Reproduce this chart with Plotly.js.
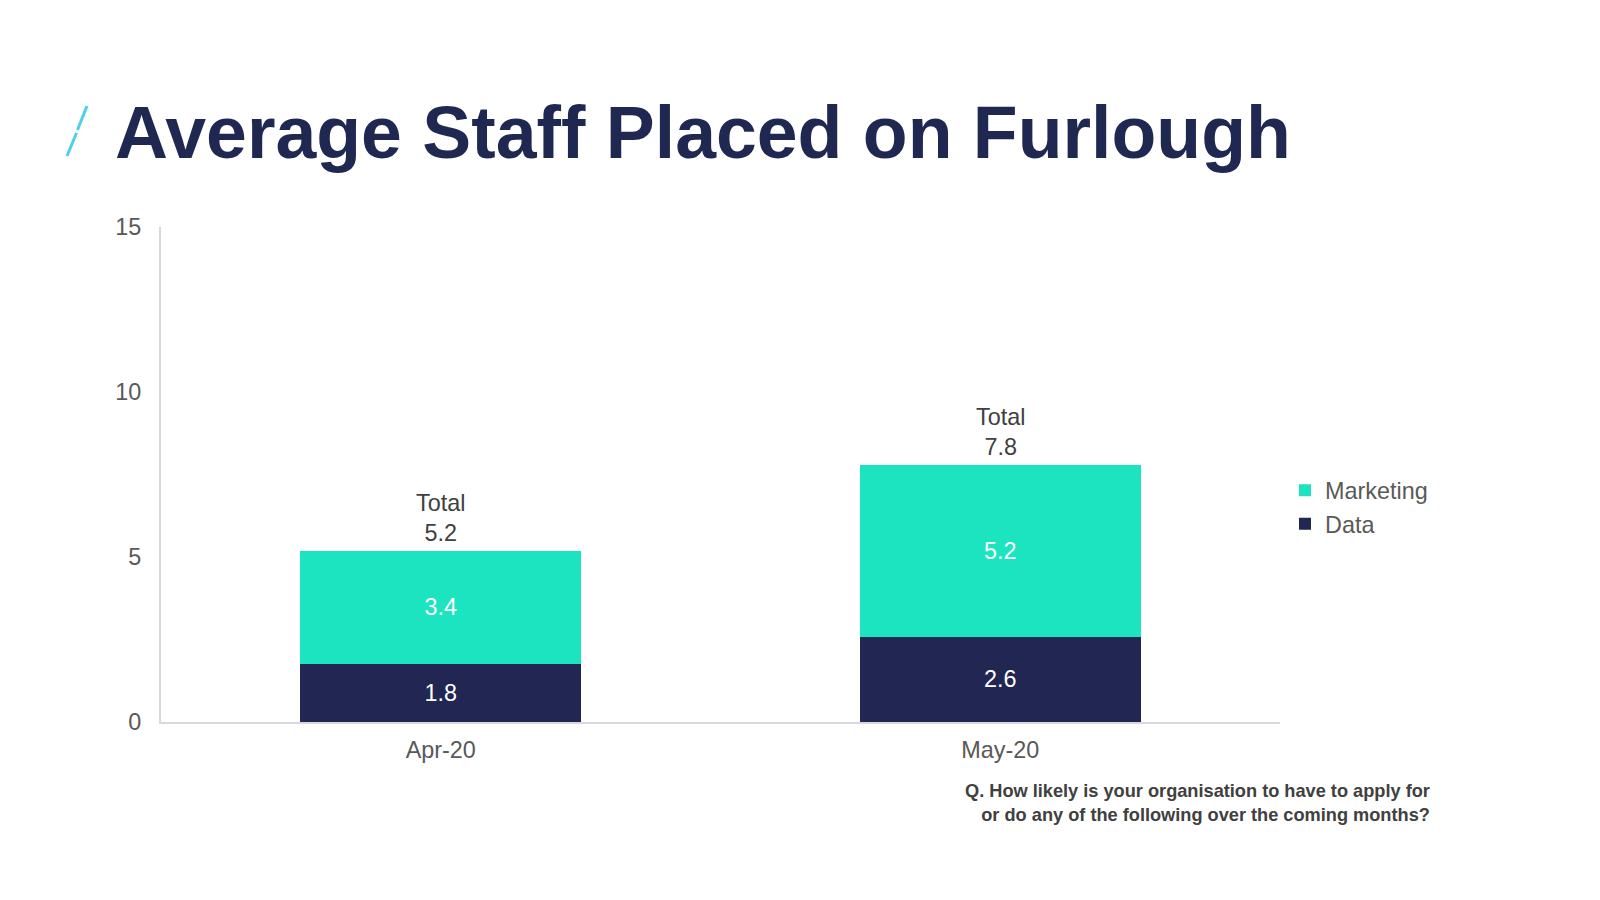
<!DOCTYPE html>
<html>
<head>
<meta charset="utf-8">
<script src="https://cdn.plot.ly/plotly-3.0.1.min.js"></script>
<style>
html,body{margin:0;padding:0;background:#fff;}
#chart{width:1600px;height:900px;}
</style>
</head>
<body>
<div id="chart"></div>
<script>
const months = ["Apr-20", "May-20"];
const dataValues = [1.76, 2.58];
const marketingValues = [3.42, 5.21];
const yTicks = [0, 5, 10, 15];
const chartTitle = "Average Staff Placed on Furlough";
const footnote = "Q. How likely is your organisation to have to apply for<br>or do any of the following over the coming months?";

const totals = months.map((m, i) => dataValues[i] + marketingValues[i]);

const FONT = "Liberation Sans, Arial, sans-serif";
const NAVY = "#212653";
const AQUA = "#1ce4c1";
const GREY = "#595959";
const FS = 23.4;

const traces = [
  {
    type: "bar", name: "Data", x: months, y: dataValues,
    marker: {color: NAVY},
    texttemplate: "%{y:.1f}", textposition: "inside", insidetextanchor: "middle",
    textangle: 0, constraintext: "none",
    insidetextfont: {family: FONT, size: FS, color: "#ffffff"},
    hoverinfo: "skip"
  },
  {
    type: "bar", name: "Marketing", x: months, y: marketingValues,
    marker: {color: AQUA},
    texttemplate: "%{y:.1f}", textposition: "inside", insidetextanchor: "middle",
    textangle: 0, constraintext: "none",
    insidetextfont: {family: FONT, size: FS, color: "#ffffff"},
    hoverinfo: "skip"
  }
];

const annotations = months.map((m, i) => ({
  x: m, y: totals[i], xref: "x", yref: "y",
  text: "Total<br>" + totals[i].toFixed(1),
  showarrow: false, yanchor: "bottom", xanchor: "center", yshift: 3,
  font: {family: FONT, size: FS, color: "#404040"}
}));

annotations.push({
  xref: "paper", yref: "paper", x: 1.1359, y: -0.1636,
  xanchor: "right", yanchor: "middle", align: "right", showarrow: false,
  text: "<b>" + footnote.split("<br>").join("</b><br><b>") + "</b>",
  font: {family: FONT, size: 18.2, color: "#404040"}
});

// paper coordinate helpers for decorative slash (plot area 161..1280 x, 227..722 y)
const px = v => (v - 161) / 1119;
const py = v => (722 - v) / 495;

const layout = {
  width: 1600, height: 900,
  margin: {l: 161, r: 320, t: 227, b: 178},
  paper_bgcolor: "#ffffff", plot_bgcolor: "#ffffff",
  barmode: "stack", bargap: 0.498,
  font: {family: FONT, color: GREY},
  title: {
    text: "<b>" + chartTitle + "</b>",
    x: 115 / 1600, xref: "container", xanchor: "left",
    y: 1 - 132.5 / 900, yref: "container", yanchor: "middle",
    font: {family: FONT, size: 73.4, color: "#1f2851"}
  },
  xaxis: {
    type: "category",
    showline: true, linecolor: "#d9d9d9", linewidth: 2,
    showgrid: false, zeroline: false, ticks: "",
    ticklabelstandoff: 6,
    tickfont: {family: FONT, size: FS, color: GREY}
  },
  yaxis: {
    range: [0, 15], tickvals: yTicks, ticktext: yTicks.map(String),
    showline: true, linecolor: "#d9d9d9", linewidth: 2,
    showgrid: false, zeroline: false, ticks: "",
    ticklabelstandoff: 13,
    tickfont: {family: FONT, size: FS, color: GREY}
  },
  showlegend: true,
  legend: {
    x: px(1285), y: py(507), xanchor: "left", yanchor: "middle",
    traceorder: "reversed",
    font: {family: FONT, size: FS, color: GREY},
    bgcolor: "rgba(0,0,0,0)", borderwidth: 0
  },
  annotations: annotations,
  shapes: [
    {type: "line", xref: "paper", yref: "paper",
     x0: px(87), y0: py(106), x1: px(77.5), y1: py(130),
     line: {color: "#4fcfe8", width: 3}},
    {type: "line", xref: "paper", yref: "paper",
     x0: px(76.5), y0: py(133), x1: px(67), y1: py(156),
     line: {color: "#4fcfe8", width: 3}}
  ]
};

Plotly.newPlot("chart", traces, layout, {displayModeBar: false, staticPlot: true});
</script>
</body>
</html>
